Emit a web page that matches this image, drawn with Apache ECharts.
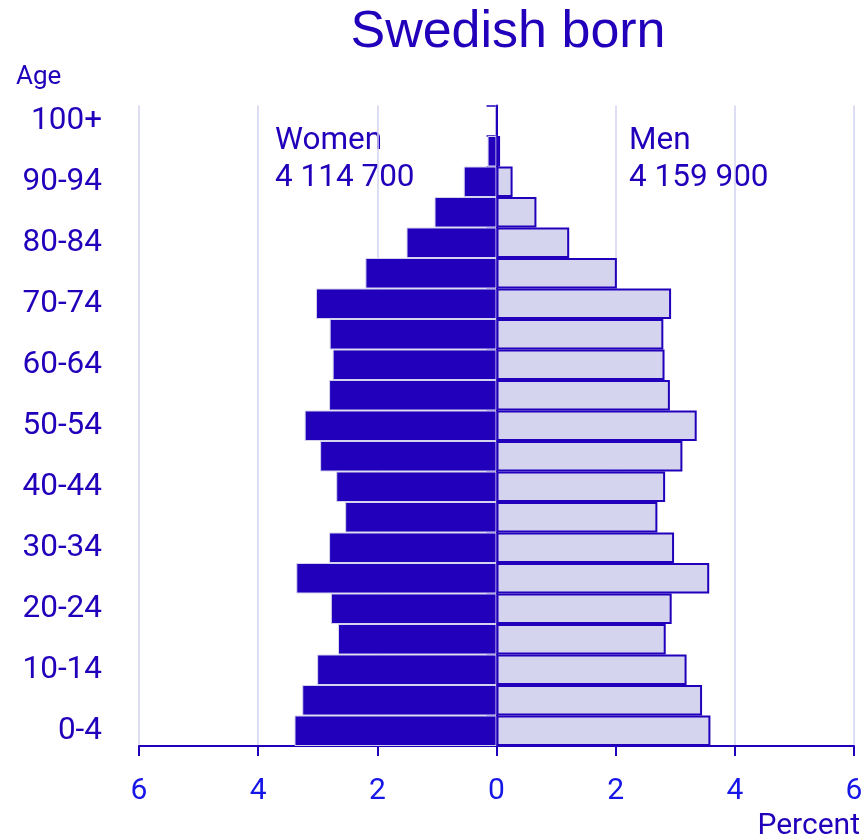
<!DOCTYPE html>
<html>
<head>
<meta charset="utf-8">
<script src="https://cdn.jsdelivr.net/npm/echarts@6/dist/echarts.min.js"></script>
<style>
html,body{margin:0;padding:0;background:#fff;}
#chart{width:864px;height:840px;}
</style>
</head>
<body>
<div id="chart"></div>
<script>
var ageGroups = ['0-4','5-9','10-14','15-19','20-24','25-29','30-34','35-39','40-44','45-49','50-54','55-59','60-64','65-69','70-74','75-79','80-84','85-89','90-94','95-99','100+'];
var womenPct = [3.39, 3.26, 3.01, 2.66, 2.78, 3.36, 2.81, 2.54, 2.69, 2.96, 3.22, 2.81, 2.75, 2.80, 3.03, 2.20, 1.51, 1.04, 0.55, 0.15, 0.01];
var menPct   = [3.59, 3.45, 3.19, 2.84, 2.94, 3.57, 2.98, 2.70, 2.83, 3.12, 3.36, 2.91, 2.82, 2.80, 2.93, 2.02, 1.22, 0.67, 0.27, 0.06, 0.01];
var xTicks = [-6, -4, -2, 0, 2, 4, 6];
var titleText = 'Swedish born';
var womenLabel = 'Women';
var womenTotal = '4 114 700';
var menLabel = 'Men';
var menTotal = '4 159 900';

var DARK = '#2200bb';
var LIGHT = '#d4d4ee';
var TICKBLUE = '#1616e8';
var GRIDC = '#d2d2f0';
var FONT = 'Roboto';

var chart = echarts.init(document.getElementById('chart'), null, {renderer: 'canvas'});
var option = {
  animation: false,
  backgroundColor: '#ffffff',
  grid: {left: 139, right: 10, top: 105.5, bottom: 94, containLabel: false, outerBoundsMode: 'none'},
  xAxis: {
    type: 'value',
    min: xTicks[0], max: xTicks[xTicks.length - 1], interval: 2,
    axisLine: {show: true, onZero: false, lineStyle: {color: DARK, width: 2}},
    axisTick: {show: true, length: 10, lineStyle: {color: DARK, width: 2}},
    axisLabel: {
      color: TICKBLUE, fontFamily: FONT, fontSize: 30, margin: 30,
      formatter: function (v) { return String(Math.abs(v)); }
    },
    splitLine: {show: true, lineStyle: {color: GRIDC, width: 1.5}}
  },
  yAxis: [
    {
      type: 'category',
      data: ageGroups,
      position: 'left',
      boundaryGap: true,
      axisLine: {show: false, onZero: false},
      axisTick: {show: false},
      axisLabel: {interval: 1, color: DARK, fontFamily: FONT, fontSize: 31.5, margin: 37},
      splitLine: {show: false}
    },
    {
      type: 'category',
      data: ageGroups,
      position: 'left',
      boundaryGap: true,
      axisLine: {show: true, onZero: true, lineStyle: {color: DARK, width: 2}},
      axisTick: {show: true, interval: 0, length: 10, lineStyle: {color: DARK, width: 1.5}},
      axisLabel: {show: false},
      splitLine: {show: false}
    }
  ],
  series: [
    {
      name: 'Women', type: 'bar', yAxisIndex: 0,
      data: womenPct.map(function (v) { return -v; }),
      barGap: '-100%', barCategoryGap: 0,
      itemStyle: {color: DARK, borderColor: LIGHT, borderWidth: 1},
      z: 2
    },
    {
      name: 'Men', type: 'bar', yAxisIndex: 0,
      data: menPct,
      barGap: '-100%', barCategoryGap: 0,
      itemStyle: {color: LIGHT, borderColor: DARK, borderWidth: 2},
      z: 2
    }
  ],
  graphic: [
    {type: 'text', x: 508, y: 33, style: {text: titleText, fill: DARK, font: 'normal 52px "Liberation Sans", Arial, sans-serif', textAlign: 'center', textVerticalAlign: 'middle'}},
    {type: 'text', x: 16, y: 77, style: {text: 'Age', fill: DARK, font: '26px Roboto', textAlign: 'left', textVerticalAlign: 'middle'}},
    {type: 'text', x: 860, y: 826, style: {text: 'Percent', fill: DARK, font: '30px Roboto', textAlign: 'right', textVerticalAlign: 'middle'}},
    {type: 'text', x: 275, y: 141, style: {text: womenLabel, fill: DARK, font: '31.5px Roboto', textAlign: 'left', textVerticalAlign: 'middle'}},
    {type: 'text', x: 275, y: 178, style: {text: womenTotal, fill: DARK, font: '31.5px Roboto', textAlign: 'left', textVerticalAlign: 'middle'}},
    {type: 'text', x: 629, y: 141, style: {text: menLabel, fill: DARK, font: '31.5px Roboto', textAlign: 'left', textVerticalAlign: 'middle'}},
    {type: 'text', x: 629, y: 178, style: {text: menTotal, fill: DARK, font: '31.5px Roboto', textAlign: 'left', textVerticalAlign: 'middle'}}
  ]
};
chart.setOption(option);
</script>
</body>
</html>
